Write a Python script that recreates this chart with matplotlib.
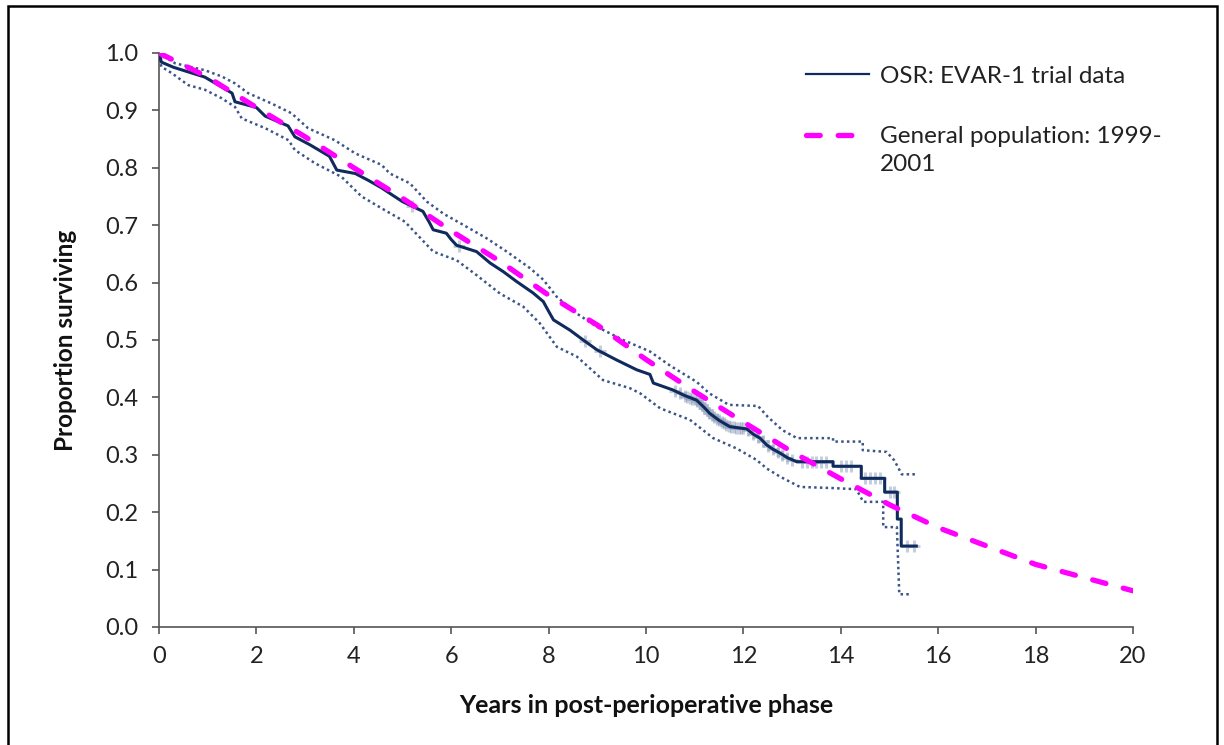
import numpy as np
import matplotlib
matplotlib.use("Agg")
import matplotlib.pyplot as plt
from matplotlib.patches import Rectangle
from matplotlib.legend_handler import HandlerLine2D

plt.rcParams['font.family'] = ['Lato', 'DejaVu Sans']

# Kaplan-Meier estimate (OSR: EVAR-1 trial data); repeated times mark vertical drops
km_t = [0, 0.05, 0.3, 0.6, 0.94, 1.2, 1.5, 1.56, 2.0, 2.18, 2.4, 2.65, 2.79, 3.1, 3.34, 3.5,
        3.65, 4.03, 4.3, 4.57, 4.8, 5.0, 5.15, 5.42, 5.55, 5.63, 5.9, 6.0, 6.11, 6.52, 6.8,
        7.07, 7.34, 7.68, 7.89, 8.0, 8.1, 8.44, 8.71, 8.99, 9.4, 9.81, 10.08, 10.15, 10.55,
        10.8, 11.04, 11.2, 11.31, 11.5, 11.72, 12.07, 12.2, 12.34, 12.48, 12.6, 12.75, 12.9,
        13.09, 13.84, 13.84, 14.42, 14.42, 14.9, 14.9, 15.16, 15.16, 15.24, 15.24, 15.55]
km_s = [1.0, 0.984, 0.975, 0.967, 0.958, 0.945, 0.93, 0.915, 0.905, 0.89, 0.882, 0.873, 0.854,
        0.84, 0.828, 0.82, 0.796, 0.79, 0.778, 0.765, 0.752, 0.741, 0.735, 0.724, 0.705, 0.692,
        0.686, 0.675, 0.665, 0.654, 0.634, 0.619, 0.602, 0.582, 0.567, 0.55, 0.535, 0.517, 0.5,
        0.483, 0.465, 0.448, 0.44, 0.425, 0.413, 0.403, 0.395, 0.382, 0.372, 0.36, 0.349, 0.345,
        0.336, 0.329, 0.317, 0.31, 0.303, 0.295, 0.288, 0.288, 0.28, 0.28, 0.259, 0.259, 0.235,
        0.235, 0.188, 0.188, 0.141, 0.141]

# Upper confidence limit
up_t = [0, 0.33, 0.94, 1.29, 1.56, 1.83, 2.31, 2.72, 3.06, 3.61, 4.03, 4.57, 4.74, 5.15, 5.5,
        5.84, 6.32, 6.73, 7.14, 7.62, 7.89, 8.17, 8.58, 8.99, 9.53, 10.08, 10.5, 11.04, 11.3,
        11.7, 12.3, 12.5, 12.8, 13.1, 13.84, 13.84, 14.45, 14.45, 14.94, 15.1, 15.25, 15.55]
up_s = [1.0, 0.982, 0.97, 0.959, 0.947, 0.93, 0.912, 0.895, 0.869, 0.848, 0.825, 0.805, 0.79,
        0.773, 0.741, 0.72, 0.697, 0.677, 0.654, 0.625, 0.605, 0.575, 0.546, 0.523, 0.5, 0.48,
        0.455, 0.427, 0.407, 0.387, 0.385, 0.366, 0.343, 0.329, 0.329, 0.323, 0.323, 0.308,
        0.305, 0.29, 0.266, 0.266]

# Lower confidence limit
lo_t = [0, 0.05, 0.26, 0.6, 0.94, 1.29, 1.56, 1.7, 2.18, 2.66, 2.79, 3.2, 3.75, 4.16, 4.64,
        5.05, 5.15, 5.63, 6.11, 6.52, 7.0, 7.48, 7.82, 8.17, 8.58, 9.12, 9.67, 9.88, 10.29,
        10.9, 11.38, 11.86, 12.27, 12.48, 12.75, 13.16, 13.84, 14.32, 14.46, 14.87, 14.87,
        15.15, 15.2, 15.45]
lo_s = [0.99, 0.976, 0.965, 0.944, 0.936, 0.921, 0.906, 0.886, 0.869, 0.848, 0.831, 0.808,
        0.784, 0.75, 0.726, 0.706, 0.697, 0.654, 0.639, 0.613, 0.581, 0.558, 0.529, 0.488,
        0.471, 0.43, 0.416, 0.407, 0.381, 0.361, 0.329, 0.311, 0.291, 0.276, 0.262, 0.244,
        0.242, 0.24, 0.218, 0.218, 0.174, 0.174, 0.057, 0.057]

# Censoring times
cens_t = [0.02, 5.2, 6.15, 8.75, 9.05, 10.6, 10.7, 10.8, 10.85, 10.9, 10.95, 11.0, 11.05, 11.1,
          11.15, 11.2, 11.25, 11.3, 11.35, 11.4, 11.45, 11.5, 11.55, 11.6, 11.65, 11.7, 11.75,
          11.8, 11.85, 11.9, 11.95, 12.0, 12.1, 12.2, 12.3, 12.4, 12.5, 12.6, 12.7, 12.8, 12.9,
          13.0, 13.2, 13.3, 13.4, 13.5, 13.6, 13.7, 14.0, 14.1, 14.2, 14.5, 14.6, 14.7, 14.8,
          15.0, 15.1, 15.35, 15.5]

# General population survival 1999-2001
gp_t = [0, 1, 2, 3, 4, 5, 6, 7, 8, 9, 10, 11, 12, 13, 14, 15, 16, 17, 18, 19, 20]
gp_s = [1.0, 0.958, 0.905, 0.854, 0.80, 0.747, 0.69, 0.637, 0.578, 0.526, 0.466, 0.41, 0.357,
        0.305, 0.258, 0.213, 0.173, 0.141, 0.109, 0.086, 0.063]

x_ticks = [0, 2, 4, 6, 8, 10, 12, 14, 16, 18, 20]
y_ticks = [0.0, 0.1, 0.2, 0.3, 0.4, 0.5, 0.6, 0.7, 0.8, 0.9, 1.0]

navy = '#0f2a5c'
ci_col = '#3b5587'


class RaisedHandler(HandlerLine2D):
    """Legend line handle aligned with the first line of a two-line label."""
    def __init__(self, raise_frac=0.0, **kw):
        super().__init__(**kw)
        self.raise_frac = raise_frac

    def create_artists(self, legend, orig_handle, xdescent, ydescent, width, height,
                       fontsize, trans):
        arts = super().create_artists(legend, orig_handle, xdescent, ydescent, width,
                                      height, fontsize, trans)
        for a in arts:
            if hasattr(a, 'set_ydata'):
                a.set_ydata(np.asarray(a.get_ydata()) + self.raise_frac * fontsize)
        return arts


fig = plt.figure(figsize=(12.24, 7.45), dpi=100)
ax = fig.add_axes([0.1299, 0.1584, 0.7958, 0.7705])

# censor marks on the KM curve
cens_s = np.interp(cens_t, np.array(km_t), np.array(km_s))
ax.plot(cens_t, cens_s, linestyle='none', marker='+', markersize=9, mew=2.2,
        color='#8e9dbb', alpha=0.5, zorder=2)

ax.plot(up_t, up_s, color=ci_col, lw=1.8, linestyle=(0, (1, 1.3)), zorder=3)
ax.plot(lo_t, lo_s, color=ci_col, lw=1.8, linestyle=(0, (1, 1.3)), zorder=3)
l1, = ax.plot(km_t, km_s, color=navy, lw=2.2, zorder=4, label='OSR: EVAR-1 trial data')
l2, = ax.plot(gp_t, gp_s, color='#ff00ff', lw=3.8, dashes=(2.6, 3.4),
              dash_capstyle='round', zorder=5, label='General population: 1999-\n2001')

ax.set_xlim(0, 20)
ax.set_ylim(0, 1.0)
ax.set_xticks(x_ticks)
ax.set_xticklabels([str(v) for v in x_ticks])
ax.set_yticks(y_ticks)
ax.set_yticklabels([f'{v:.1f}' for v in y_ticks])
ax.tick_params(axis='both', labelsize=17, length=5, width=1.2, color='#555555',
               labelcolor='#222222', direction='out')
ax.tick_params(axis='y', pad=10)
ax.tick_params(axis='x', pad=9)
for s in ['top', 'right']:
    ax.spines[s].set_visible(False)
for s in ['left', 'bottom']:
    ax.spines[s].set_color('#555555')
    ax.spines[s].set_linewidth(1.2)

ax.set_xlabel('Years in post-perioperative phase', fontsize=18, fontweight='bold',
              color='#111111', labelpad=19)
ax.set_ylabel('Proportion surviving', fontsize=17.5, fontweight='bold',
              color='#111111', labelpad=20)

leg = ax.legend(handles=[l1, l2], loc='upper left', bbox_to_anchor=(0.664, 0.978),
                frameon=False, fontsize=17.5, handlelength=2.6, handletextpad=0.45,
                labelspacing=1.6, borderaxespad=0, borderpad=0,
                handler_map={l2: RaisedHandler(raise_frac=0.62)})
for t in leg.get_texts():
    t.set_color('#222222')
    t.set_linespacing(1.45)
leg.get_lines()[0].set_linewidth(1.6)

fig.patches.append(Rectangle((0.0065, -0.02), 0.988, 1.012, transform=fig.transFigure,
                             fill=False, edgecolor='black', lw=1.8))

fig.savefig('out.png', dpi=100)
